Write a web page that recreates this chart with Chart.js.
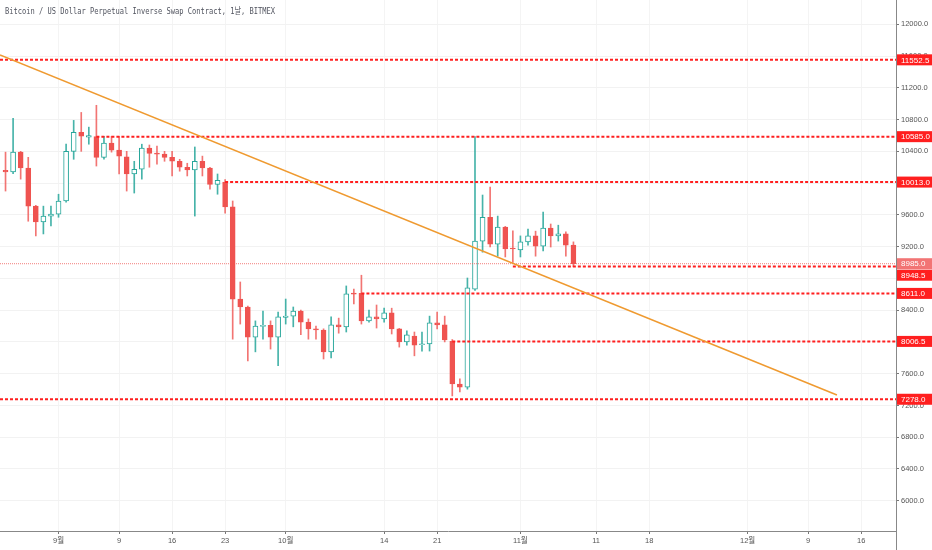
<!DOCTYPE html>
<html>
<head>
<meta charset="utf-8">
<script src="https://cdn.jsdelivr.net/npm/chart.js@4.4.1/dist/chart.umd.min.js"></script>
<style>
  html, body { margin: 0; padding: 0; background: #fff; }
  #wrap { width: 932px; height: 550px; position: relative; }
</style>
</head>
<body>
<div id="wrap"><canvas id="btcChart"></canvas></div>
<script>
// Daily candles, index 0 = Aug 25 2019 ... index 75 = Nov 8 2019
const opens = [
  10160, 10140, 10390, 10190, 9710, 9510, 9585, 9610, 9775, 10400,
  10640, 10580, 10585, 10325, 10505, 10415, 10330, 10115, 10175, 10440,
  10375, 10365, 10325, 10275, 10200, 10165, 10275, 10190, 9985, 10013,
  9700, 8540, 8440, 8060, 8195, 8210, 8060, 8310, 8325, 8390,
  8250, 8165, 8150, 7875, 8215, 8190, 8615, 8611, 8265, 8315,
  8290, 8365, 8165, 8000, 8075, 7965, 7975, 8240, 8215, 8006.5,
  7470, 7430, 8665, 9270, 9570, 9230, 9445, 9180, 9160, 9260,
  9335, 9205, 9435, 9335, 9360, 9220
];
const highs = [
  10390, 10815, 10400, 10325, 9720, 9710, 9710, 9860, 10490, 10790,
  10890, 10705, 10980, 10590, 10590, 10590, 10400, 10275, 10490, 10480,
  10465, 10400, 10400, 10300, 10250, 10455, 10340, 10200, 10115, 10045,
  9775, 8755, 8450, 8265, 8390, 8265, 8375, 8540, 8440, 8400,
  8290, 8200, 8165, 8315, 8300, 8705, 8665, 8840, 8400, 8465,
  8425, 8425, 8170, 8140, 8125, 8125, 8325, 8375, 8325, 8030,
  7535, 8805, 10585, 9850, 9950, 9585, 9455, 9400, 9335, 9420,
  9395, 9635, 9485, 9470, 9385, 9260
];
const lows = [
  9900, 10120, 10050, 9520, 9335, 9360, 9460, 9570, 9760, 10300,
  10400, 10490, 10215, 10300, 10390, 10115, 9900, 9875, 10050, 10200,
  10240, 10275, 10090, 10150, 10090, 9585, 10090, 9925, 9860, 9620,
  8035, 8225, 7760, 7875, 8035, 7910, 7700, 8225, 8190, 8090,
  8035, 8035, 7785, 7800, 8110, 8125, 8480, 8225, 8250, 8175,
  8250, 8100, 7935, 7960, 7825, 7885, 7885, 8165, 8000, 7320,
  7370, 7405, 8650, 9130, 9195, 9080, 9070, 9000, 9070, 9220,
  9080, 9145, 9195, 9270, 9080, 8948.5
];
const closes = [
  10140, 10390, 10190, 9710, 9510, 9585, 9610, 9775, 10400, 10640,
  10590, 10600, 10325, 10505, 10415, 10340, 10115, 10175, 10440, 10375,
  10365, 10325, 10275, 10200, 10165, 10275, 10190, 9985, 10035, 9700,
  8540, 8440, 8060, 8200, 8210, 8060, 8315, 8325, 8390, 8250,
  8165, 8150, 7875, 8215, 8190, 8605, 8600, 8265, 8315, 8290,
  8365, 8165, 8000, 8090, 7960, 7975, 8240, 8215, 8025, 7470,
  7430, 8680, 9270, 9570, 9230, 9445, 9170, 9170, 9260, 9335,
  9205, 9435, 9335, 9360, 9220, 8985
];

// Axis ticks
const dayTicks = [7, 15, 22, 29, 37, 50, 57, 68, 78, 85, 98, 106, 113];
const dayTickLabels = ['9월', '9', '16', '23', '10월', '14', '21', '11월', '11', '18', '12월', '9', '16'];
const priceTicks = [6000, 6400, 6800, 7200, 7600, 8000, 8400, 8800, 9200, 9600,
  10000, 10400, 10800, 11200, 11600, 12000];

// Horizontal levels (null start = from the left edge)
const levelValues = [11552.5, 10585, 10013, 8948.5, 8611, 8006.5, 7278];
const levelStartDays = [null, 12, 29, 67, 47, 59, null];
const lastPrice = 8985;

// Trend line anchors
const trendDays = [-0.73, 109.8];
const trendPrices = [11613, 7331];

const UP = '#26a69a';
const DOWN = '#ef5350';
const LEVEL_RED = '#ff1f1f';
const X_MIN = -0.73;
const X_MAX = 117.6;
const FONT = "'Liberation Sans', 'Noto Sans CJK KR', sans-serif";

const isUp = opens.map((o, i) => closes[i] >= o);

const bodies = opens.map((o, i) => ({ x: i, y: [o, closes[i]] }));
const wicks = lows.map((l, i) => ({ x: i, y: [l, highs[i]] }));

const datasets = [];

// level rays
levelValues.forEach((v, i) => {
  const start = levelStartDays[i] === null ? X_MIN : levelStartDays[i];
  datasets.push({
    type: 'line',
    data: [{ x: start, y: v }, { x: X_MAX, y: v }],
    borderColor: LEVEL_RED,
    borderWidth: 2,
    borderDash: [3, 2],
    pointRadius: 0,
    order: 1
  });
});

// last price line
datasets.push({
  type: 'line',
  data: [{ x: X_MIN, y: lastPrice }, { x: X_MAX, y: lastPrice }],
  borderColor: 'rgba(239,83,80,0.75)',
  borderWidth: 1,
  borderDash: [1, 1],
  pointRadius: 0,
  order: 1
});

// trend line
datasets.push({
  type: 'line',
  data: trendDays.map((d, i) => ({ x: d, y: trendPrices[i] })),
  borderColor: '#ef9a30',
  borderWidth: 1.5,
  pointRadius: 0,
  order: 0
});

// candle bodies
datasets.push({
  type: 'bar',
  data: bodies,
  backgroundColor: isUp.map(u => u ? '#ffffff' : DOWN),
  borderColor: isUp.map(u => u ? UP : DOWN),
  borderWidth: 1,
  borderSkipped: false,
  barThickness: 5,
  minBarLength: 1,
  grouped: false,
  order: 2
});

// candle wicks
datasets.push({
  type: 'bar',
  data: wicks,
  backgroundColor: isUp.map(u => u ? 'rgba(38,166,154,0.85)' : 'rgba(239,83,80,0.8)'),
  barThickness: 1,
  grouped: false,
  order: 3
});

// Plugin to draw title, price labels and axis extension
const overlayPlugin = {
  id: 'overlay',
  afterDraw(chart) {
    const ctx = chart.ctx;
    const area = chart.chartArea;
    const yScale = chart.scales.y;

    ctx.save();
    // axis extension below the plot
    ctx.strokeStyle = '#888';
    ctx.lineWidth = 1;
    ctx.beginPath();
    ctx.moveTo(Math.round(area.right) + 0.5, area.bottom);
    ctx.lineTo(Math.round(area.right) + 0.5, chart.height);
    ctx.stroke();

    // title
    ctx.font = "9px 'DejaVu Sans Mono', 'Noto Sans CJK KR', monospace";
    ctx.fillStyle = '#50535e';
    ctx.textBaseline = 'middle';
    ctx.textAlign = 'left';
    const title = 'Bitcoin / US Dollar Perpetual Inverse Swap Contract, 1날, BITMEX';
    const w = ctx.measureText(title).width;
    ctx.translate(5, 12);
    ctx.scale(270 / w, 1);
    ctx.fillText(title, 0, 0);
    ctx.restore();

    // price labels on the right axis
    const labels = levelValues.map(v => ({ v, color: LEVEL_RED }));
    labels.push({ v: lastPrice, color: '#f27474' });
    labels.sort((a, b) => b.v - a.v);
    const boxH = 11;
    let prev = -100;
    ctx.save();
    ctx.font = '8px ' + FONT;
    ctx.textBaseline = 'middle';
    ctx.textAlign = 'left';
    labels.forEach(l => {
      let y = yScale.getPixelForValue(l.v);
      if (y < prev + boxH + 0.5) y = prev + boxH + 0.5;
      prev = y;
      ctx.fillStyle = l.color;
      ctx.fillRect(area.right + 1, y - boxH / 2, chart.width - area.right, boxH);
      ctx.fillStyle = '#ffffff';
      ctx.fillText(l.v.toFixed(1), area.right + 5, y + 0.5);
    });
    ctx.restore();
  }
};

new Chart(document.getElementById('btcChart'), {
  type: 'bar',
  data: { datasets },
  options: {
    responsive: true,
    maintainAspectRatio: false,
    animation: false,
    layout: { padding: 0 },
    plugins: {
      legend: { display: false },
      tooltip: { enabled: false }
    },
    scales: {
      x: {
        type: 'linear',
        min: X_MIN,
        max: X_MAX,
        offset: false,
        afterBuildTicks: s => { s.ticks = dayTicks.map(v => ({ value: v })); },
        afterFit: s => { s.height = 19; s.paddingLeft = 0; s.paddingRight = 0; },
        grid: { offset: false, color: '#f4f4f4', tickColor: '#777', tickLength: 3 },
        border: { color: '#888' },
        ticks: {
          autoSkip: false,
          maxRotation: 0,
          padding: 2,
          color: '#555',
          font: { size: 7.5, family: FONT },
          callback: v => dayTickLabels[dayTicks.indexOf(v)]
        }
      },
      y: {
        position: 'right',
        min: 5619,
        max: 12306,
        afterBuildTicks: s => { s.ticks = priceTicks.map(v => ({ value: v })); },
        afterFit: s => { s.width = 36; s.paddingTop = 0; s.paddingBottom = 0; },
        grid: { color: '#f2f2f2', tickColor: '#777', tickLength: 3 },
        border: { color: '#888' },
        ticks: {
          padding: 2,
          color: '#555',
          font: { size: 7.5, family: FONT },
          callback: v => Number(v).toFixed(1)
        }
      }
    }
  },
  plugins: [overlayPlugin]
});
</script>
</body>
</html>
